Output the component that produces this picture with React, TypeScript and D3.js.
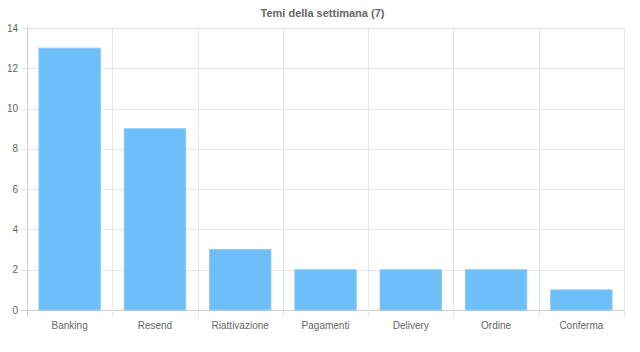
import { useRef, useEffect } from "react";
import * as d3 from "d3";

const categories = ["Banking", "Resend", "Riattivazione", "Pagamenti", "Delivery", "Ordine", "Conferma"];
const values = [13, 9, 3, 2, 2, 2, 1];
const yTicks = [0, 2, 4, 6, 8, 10, 12, 14];
const title = "Temi della settimana (7)";

const W = 640;
const H = 352;
const m = { top: 28, right: 16, bottom: 42, left: 27 };

export default function App() {
  const svgRef = useRef<SVGSVGElement>(null);

  useEffect(() => {
    const svg = d3.select(svgRef.current);
    svg.selectAll("*").remove();
    const font = "'Liberation Sans', Arial, sans-serif";

    const x = d3.scaleBand().domain(categories).range([m.left, W - m.right]);
    const y = d3.scaleLinear().domain([0, 14]).range([H - m.bottom, m.top]);

    // title
    svg
      .append("text")
      .attr("x", (m.left + W - m.right) / 2 - 3)
      .attr("y", 17)
      .attr("text-anchor", "middle")
      .attr("font-family", font)
      .attr("font-size", 11)
      .attr("font-weight", "bold")
      .attr("fill", "#666")
      .text(title);

    // horizontal gridlines + y ticks
    const yg = svg.append("g");
    yg.selectAll("line")
      .data(yTicks)
      .join("line")
      .attr("x1", m.left - 6)
      .attr("x2", W - m.right)
      .attr("y1", (d) => Math.round(y(d)) + 0.5)
      .attr("y2", (d) => Math.round(y(d)) + 0.5)
      .attr("stroke", (d) => (d === 0 ? "#d0d0d0" : "#e8e8e8"));
    yg.selectAll("text")
      .data(yTicks)
      .join("text")
      .attr("x", m.left - 9)
      .attr("y", (d) => y(d))
      .attr("dy", "0.35em")
      .attr("text-anchor", "end")
      .attr("font-family", font)
      .attr("font-size", 10)
      .attr("fill", "#666")
      .text((d) => d);

    // vertical gridlines at category boundaries
    const bounds = categories.map((c) => x(c) as number).concat([W - m.right]);
    svg
      .append("g")
      .selectAll("line")
      .data(bounds)
      .join("line")
      .attr("x1", (d) => Math.round(d) + 0.5)
      .attr("x2", (d) => Math.round(d) + 0.5)
      .attr("y1", m.top)
      .attr("y2", H - m.bottom + 7)
      .attr("stroke", (d, i) => (i === 0 ? "#d0d0d0" : "#e8e8e8"));

    // bars
    const bw = x.bandwidth() * 0.72;
    svg
      .append("g")
      .selectAll("rect")
      .data(values)
      .join("rect")
      .attr("x", (d, i) => (x(categories[i]) as number) + (x.bandwidth() - bw) / 2)
      .attr("width", bw)
      .attr("y", (d) => y(d))
      .attr("height", (d) => y(0) - y(d))
      .attr("fill", "#6ebef9")
      .attr("stroke", "#8ccbfa")
      .attr("stroke-width", 1);

    // x labels
    svg
      .append("g")
      .selectAll("text")
      .data(categories)
      .join("text")
      .attr("x", (d) => (x(d) as number) + x.bandwidth() / 2)
      .attr("y", H - m.bottom + 19)
      .attr("text-anchor", "middle")
      .attr("font-family", font)
      .attr("font-size", 10)
      .attr("fill", "#666")
      .text((d) => d);
  }, []);

  return <svg ref={svgRef} width={W} height={H} style={{ display: "block", margin: -8 }} />;
}
